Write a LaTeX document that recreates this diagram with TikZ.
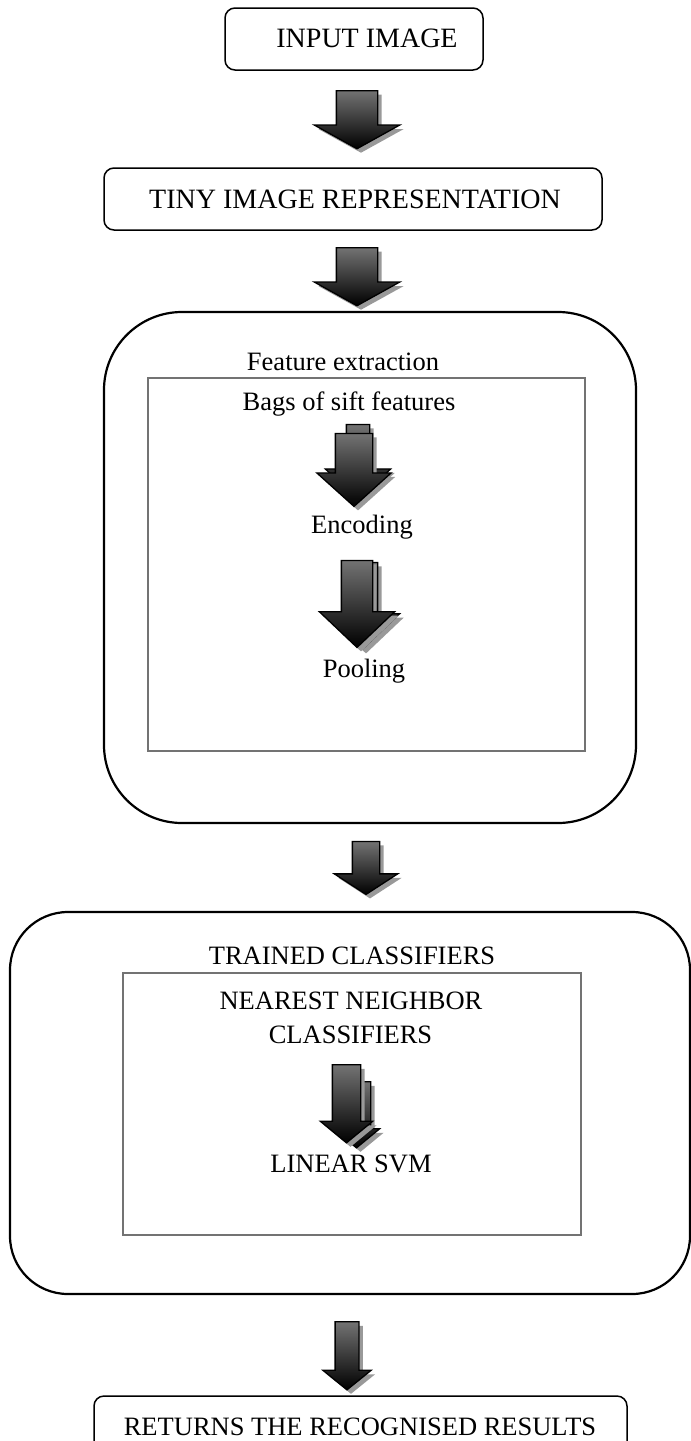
\documentclass[tikz,border=0pt]{standalone}
\usepackage{fontspec}
\setmainfont{Liberation Serif}
\usetikzlibrary{shapes.arrows,shadows}

\tikzset{
  roundbox/.style={draw, line width=1.5pt, rounded corners=10pt},
  bigbox/.style={draw, line width=2.2pt},
  innerbox/.style={draw=black!55, line width=2pt},
  bigtxt/.style={anchor=base, font=\fontsize{28}{34}\selectfont},
  txt/.style={anchor=base, font=\fontsize{26.5}{32}\selectfont},
  blockarrow/.style={single arrow, draw=black, line width=1.3pt, shape border rotate=270,
    single arrow head indent=0pt, inner ysep=0pt, top color=black!55, bottom color=black,
    drop shadow={shadow xshift=4pt, shadow yshift=-4pt, fill=black!40, opacity=1}}
}

\begin{document}
\begin{tikzpicture}[x=1pt,y=-1pt]
\useasboundingbox (0,0) rectangle (691,1441);
\clip (0,0) rectangle (691,1441);

\node[roundbox, minimum width=258pt, minimum height=62pt] (input) at (354,39) {};
\node[bigtxt] at (367,47) {INPUT IMAGE};

\node[roundbox, minimum width=498pt, minimum height=62pt] (tiny) at (353,199) {};
\node[bigtxt] at (355,208) {TINY IMAGE REPRESENTATION};

\node[bigbox, rounded corners=78pt, minimum width=532pt, minimum height=511pt] (feat) at (370,567.5) {};
\node[txt] at (343,370) {Feature extraction};
\node[innerbox, minimum width=437pt, minimum height=373pt] (featin) at (366.5,564.5) {};
\node[txt] (bags) at (349,410) {Bags of sift features};
\node[txt] (enc) at (362,533) {Encoding};
\node[txt] (pool) at (364,677) {Pooling};

\node[bigbox, rounded corners=58pt, minimum width=680pt, minimum height=382pt] (train) at (350,1103) {};
\node[txt] at (352,964) {TRAINED CLASSIFIERS};
\node[innerbox, minimum width=458pt, minimum height=262pt] (trainin) at (352,1104) {};
\node[txt] (nn1) at (351,1009) {NEAREST NEIGHBOR};
\node[txt] (nn2) at (350.5,1043) {CLASSIFIERS};
\node[txt] (svm) at (351,1172) {LINEAR SVM};

\node[roundbox, minimum width=533pt, minimum height=60pt] (result) at (360.5,1426) {};
\node[txt] at (360,1435) {RETURNS THE RECOGNISED RESULTS};

% block arrows
\node[blockarrow, minimum height=58pt, inner xsep=20pt, single arrow head extend=22pt, single arrow tip angle=122] (a1) at (357,114) {};
\node[blockarrow, minimum height=58pt, inner xsep=20pt, single arrow head extend=22pt, single arrow tip angle=122] (a2) at (357,271) {};
\node[blockarrow, minimum height=75pt, inner xsep=11pt, single arrow head extend=21pt, single arrow tip angle=94] (a3b) at (358,456.5) {};
\node[blockarrow, minimum height=73pt, inner xsep=18pt, single arrow head extend=18.5pt, single arrow tip angle=96] (a3) at (354,461.5) {};
\node[blockarrow, minimum height=87pt, inner xsep=15pt, single arrow head extend=22pt, single arrow tip angle=93] (a4b) at (362,598.5) {};
\node[blockarrow, minimum height=87pt, inner xsep=15pt, single arrow head extend=22pt, single arrow tip angle=93] (a4) at (357,596.5) {};
\node[blockarrow, minimum height=53pt, inner xsep=13pt, single arrow head extend=18pt, single arrow tip angle=114] (a5) at (366,863.5) {};
\node[blockarrow, minimum height=66pt, inner xsep=13.5pt, single arrow head extend=9pt, single arrow tip angle=101] (a6b) at (356.5,1109) {};
\node[blockarrow, minimum height=78pt, inner xsep=13.5pt, single arrow head extend=12pt, single arrow tip angle=101] (a6) at (346.5,1098) {};
\node[blockarrow, minimum height=68pt, inner xsep=11.25pt, single arrow head extend=12.25pt, single arrow tip angle=102] (a7) at (347,1351) {};

\end{tikzpicture}
\end{document}
